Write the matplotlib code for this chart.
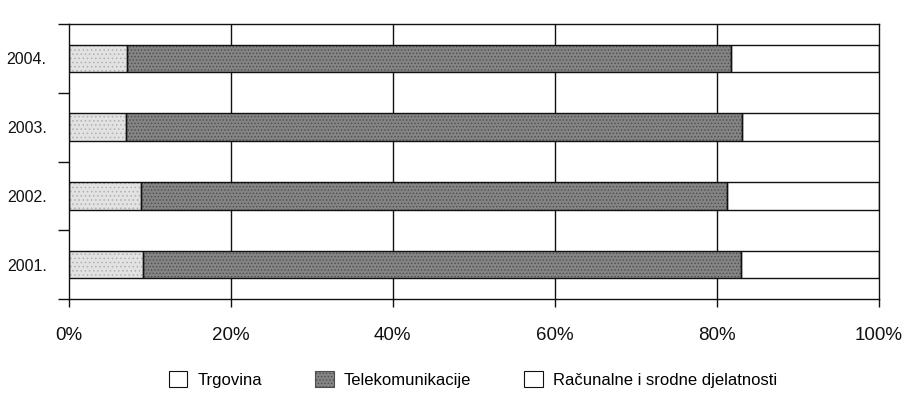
import matplotlib

matplotlib.use("Agg")
import matplotlib.pyplot as plt
import numpy as np
from matplotlib.patches import Patch

plt.rcParams["font.family"] = ["Liberation Sans Narrow", "Liberation Sans", "DejaVu Sans"]
plt.rcParams["hatch.linewidth"] = 0.6

years = ["2001.", "2002.", "2003.", "2004."]
trgovina = [9.1, 8.9, 7.0, 7.2]
telekom = [73.9, 72.3, 76.1, 74.6]
racunalne = [17.0, 18.8, 16.9, 18.2]
x_ticks = [0, 20, 40, 60, 80, 100]
x_labels = ["0%", "20%", "40%", "60%", "80%", "100%"]

LIGHT = "#e2e2e2"
DARK = "#848484"
INK = "#111111"

fig = plt.figure(figsize=(9.06, 3.94), dpi=100, facecolor="white")
ax = fig.add_axes([0.076, 0.241, 0.894, 0.698])

y = np.arange(len(years))
h = 0.4
left = np.zeros(len(years))
series = [
    (trgovina, LIGHT, "#b0b0b0", "...."),
    (telekom, DARK, "#4e4e4e", "....."),
    (racunalne, "white", None, None),
]
for values, face, dots, hatch in series:
    vals = np.array(values)
    if hatch:
        # stippled fill: hatch drawn with its own colour, no outline
        ax.barh(y, vals, left=left, height=h, color=face, edgecolor=dots,
                hatch=hatch, linewidth=0, zorder=2)
    else:
        ax.barh(y, vals, left=left, height=h, color=face, linewidth=0, zorder=2)
    ax.barh(y, vals, left=left, height=h, fill=False, edgecolor=INK,
            linewidth=1.0, zorder=3)
    left += vals

ax.set_xlim(0, 100)
ax.set_ylim(-0.5, len(years) - 0.5)

for gx in x_ticks[1:-1]:
    ax.axvline(gx, color=INK, linewidth=1.0, zorder=1)

for s in ax.spines.values():
    s.set_color(INK)
    s.set_linewidth(1.0)

ax.set_xticks(x_ticks)
ax.set_xticklabels(x_labels)
ax.tick_params(axis="x", length=6, width=1.0, direction="out", pad=14,
               labelsize=13.5, colors=INK)

ax.set_yticks(y)
ax.set_yticklabels(years)
ax.set_yticks(np.arange(-0.5, len(years)), minor=True)
ax.tick_params(axis="y", which="major", length=0, pad=16, labelsize=11.5,
               colors=INK)
ax.tick_params(axis="y", which="minor", length=8, width=1.0, direction="out",
               colors=INK)

handles = [
    Patch(facecolor="white", edgecolor=INK, linewidth=0.8, label="Trgovina"),
    Patch(facecolor=DARK, edgecolor="#4e4e4e", hatch=".....", linewidth=0.8,
          label="Telekomunikacije"),
    Patch(facecolor="white", edgecolor=INK, linewidth=0.8,
          label="Računalne i srodne djelatnosti"),
]
fig.legend(handles=handles, loc="center", bbox_to_anchor=(0.522, 0.036), ncol=3,
           frameon=False, fontsize=12, handlelength=1.1, handleheight=1.1,
           columnspacing=3.2, handletextpad=0.6)

fig.savefig("out.png", dpi=100, facecolor="white")
plt.close(fig)
